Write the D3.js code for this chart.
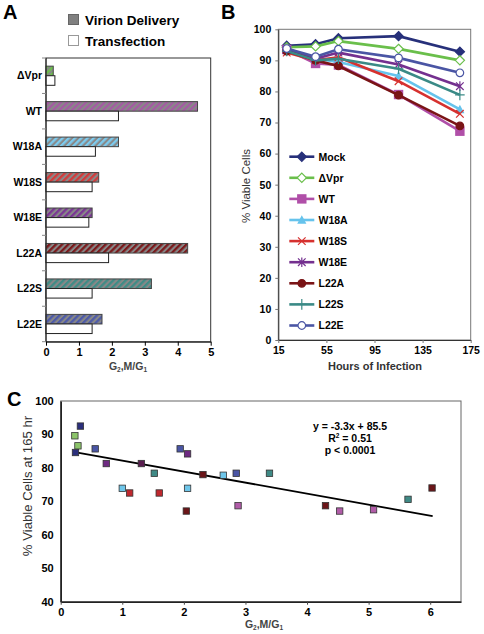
<!DOCTYPE html>
<html><head><meta charset="utf-8">
<script src="https://cdn.jsdelivr.net/npm/d3@7"></script>
<style>
body{margin:0;background:#fff}
svg{display:block}
text{font-family:"Liberation Sans",Arial,Helvetica,sans-serif}
</style>
</head><body>
<svg id="chart" width="484" height="634"></svg>
<script>
// ---------- Panel A data ----------
const mutants = ["ΔVpr","WT","W18A","W18S","W18E","L22A","L22S","L22E"];
const virionDelivery = [0.22,4.6,2.2,1.6,1.4,4.3,3.2,1.7];
const transfection = [0.27,2.2,1.5,1.4,1.3,1.9,1.4,1.4];
const mutantColors = ["#6cbf4c","#a45ba3","#7ccbee","#d33a3a","#7a3594","#7a1a1c","#3f8c86","#4d5aa8"];
const barTicks = [0,1,2,3,4,5];

// ---------- Panel B data ----------
const seriesNames = ["Mock","ΔVpr","WT","W18A","W18S","W18E","L22A","L22S","L22E"];
const seriesColors = ["#27307a","#6abf4b","#b04fa8","#66c3ec","#d6312f","#74308f","#7a1416","#3a8a86","#4a55a4"];
const seriesMarkers = ["diamond","diamondOpen","square","triangle","x","asterisk","circle","plus","circleOpen"];
const hours = [22,46,65,115,166];
const mockV  = [94.7,95.2,97.1,97.8,92.8];
const dVprV  = [94.2,94.5,96.2,93.7,90.0];
const wtV    = [93.5,89.0,88.5,79.0,67.2];
const w18aV  = [93.8,90.5,89.5,85.0,74.2];
const w18sV  = [92.5,90.0,91.0,83.3,72.8];
const w18eV  = [93.3,90.5,92.5,88.7,81.7];
const l22aV  = [93.0,90.0,88.2,78.8,68.9];
const l22sV  = [93.0,90.0,90.5,87.3,78.9];
const l22eV  = [93.8,91.2,93.6,90.8,86.0];
const seriesValues = [mockV,dVprV,wtV,w18aV,w18sV,w18eV,l22aV,l22sV,l22eV];
const hourTicks = [15,55,95,135,175];
const viableTicks = [0,10,20,30,40,50,60,70,80,90,100];

// ---------- Panel C data ----------
const scatterX = [0.23,0.28,0.24,0.32,0.56,0.74,1.31,1.52,1.94,2.06,2.31,2.64,2.85,1.00,1.12,1.60,2.06,2.04,2.88,3.39,4.30,4.53,5.08,5.64,6.03];
const scatterY = [89.6,86.6,84.6,92.5,85.7,81.3,81.3,78.4,85.7,84.2,78.0,77.8,78.4,73.9,72.5,72.5,73.9,67.1,68.7,78.4,68.7,67.1,67.5,70.6,74.0];
const scatterGroup = ["ΔVpr","ΔVpr","Mock","Mock","L22E","W18E","W18E2","L22S","L22E","W18E","L22A","W18A","L22E","W18A","W18S","W18S","W18A","L22A","WT","L22S","L22A","WT","WT","L22S","L22A"];
const scatterColorNames = ["Mock","ΔVpr","WT","W18A","W18S","W18E","W18E2","L22A","L22S","L22E"];
const scatterColors = ["#2b2f7c","#8cc46a","#b15ca8","#6ec6ea","#c0282e","#6e2a82","#5a1e50","#6b1518","#3f8a86","#4a55a4"];
const fitSlope = -3.3, fitIntercept = 85.5, fitRange = [0.25,6.04];
const fitLabels = ["y = -3.3x + 85.5","R² = 0.51","p < 0.0001"];
const gTicks = [0,1,2,3,4,5,6];
const viableTicksC = [40,50,60,70,80,90,100];

const svg = d3.select("#chart");
const defs = svg.append("defs");
const BOLD = "bold";
const fmtInt = d3.format("d");

function g2mg1(sel, x, y, anchor, size){
  const t = sel.append("text").attr("x",x).attr("y",y).attr("text-anchor",anchor)
    .attr("font-size",size).attr("font-weight","bold").attr("fill","#444");
  t.append("tspan").text("G");
  t.append("tspan").attr("font-size",size*0.62).attr("dy",2).text("2");
  t.append("tspan").attr("dy",-2).text(",M/G");
  t.append("tspan").attr("font-size",size*0.62).attr("dy",2).text("1");
}

// ================= Panel A =================
{
  const x = d3.scaleLinear().domain([0,5]).range([46,210.7]);
  const y = d3.scaleBand().domain(mutants).range([58,341.7]).paddingInner(0.46).paddingOuter(0.23);
  const g = svg.append("g");

  svg.append("text").attr("x",3).attr("y",19).attr("font-size",20).attr("font-weight",BOLD).text("A");

  // legend
  g.append("rect").attr("x",68.5).attr("y",14.5).attr("width",10).attr("height",10).attr("fill","#808080").attr("stroke","#666");
  g.append("text").attr("x",85).attr("y",24.5).attr("font-size",13.5).attr("font-weight",BOLD).text("Virion Delivery");
  g.append("rect").attr("x",68.5).attr("y",35.5).attr("width",10).attr("height",10).attr("fill","#fff").attr("stroke","#999");
  g.append("text").attr("x",85).attr("y",45.5).attr("font-size",13.5).attr("font-weight",BOLD).text("Transfection");

  // patterns
  mutants.forEach((m,i)=>{
    const p = defs.append("pattern").attr("id","hatch"+i).attr("patternUnits","userSpaceOnUse")
      .attr("width",4.4).attr("height",4.4).attr("patternTransform","rotate(45)");
    p.append("rect").attr("width",4.4).attr("height",4.4).attr("fill","#888");
    p.append("rect").attr("width",2.3).attr("height",4.4).attr("fill",mutantColors[i]);
  });

  // frame
  g.append("rect").attr("x",x(0)).attr("y",58).attr("width",x(5)-x(0)).attr("height",341.7-58)
    .attr("fill","none").attr("stroke","#333").attr("stroke-width",1);

  const bw = y.bandwidth()/2;
  g.selectAll(".vb").data(mutants).join("rect")
    .attr("x",x(0)).attr("y",d=>y(d)).attr("height",bw)
    .attr("width",(d,i)=>x(virionDelivery[i])-x(0))
    .attr("fill",(d,i)=>`url(#hatch${i})`).attr("stroke","#444").attr("stroke-width",1);
  g.selectAll(".tb").data(mutants).join("rect")
    .attr("x",x(0)).attr("y",d=>y(d)+bw).attr("height",bw)
    .attr("width",(d,i)=>x(transfection[i])-x(0))
    .attr("fill","#fff").attr("stroke","#222").attr("stroke-width",1);

  // y axis with ticks between categories
  g.append("line").attr("x1",x(0)).attr("x2",x(0)).attr("y1",58).attr("y2",341.7).attr("stroke","#222");
  const step = y.step();
  d3.range(mutants.length+1).forEach(k=>{
    const yy = 58 + step*k;
    g.append("line").attr("x1",x(0)-4).attr("x2",x(0)).attr("y1",yy).attr("y2",yy).attr("stroke","#888");
  });
  g.selectAll(".yl").data(mutants).join("text")
    .attr("x",42).attr("y",d=>y(d)+y.bandwidth()/2+3.7).attr("text-anchor","end")
    .attr("font-size",10.5).attr("font-weight",BOLD).text(d=>d);

  // x axis
  const xa = g.append("g").attr("transform","translate(0,341.7)")
    .call(d3.axisBottom(x).tickValues(barTicks).tickFormat(fmtInt).tickSize(4).tickSizeOuter(0).tickPadding(3));
  xa.select(".domain").attr("stroke","#222");
  xa.selectAll("text").attr("font-size",11).attr("font-weight",BOLD).attr("fill","#000")
    .attr("font-family","Liberation Sans, Arial, sans-serif");
  g2mg1(g,128,370,"middle",10.5);
}

// ================= Panel B =================
{
  const x = d3.scaleLinear().domain([15,175]).range([278.3,470.7]);
  const y = d3.scaleLinear().domain([0,100]).range([340,29.3]);
  const g = svg.append("g");
  svg.append("text").attr("x",221).attr("y",19).attr("font-size",20).attr("font-weight",BOLD).text("B");

  g.append("rect").attr("x",x(15)).attr("y",y(100)).attr("width",x(175)-x(15)).attr("height",y(0)-y(100))
    .attr("fill","none").attr("stroke","#777").attr("stroke-width",1);

  const ya = g.append("g").attr("transform",`translate(${x(15)},0)`)
    .call(d3.axisLeft(y).tickValues(viableTicks).tickFormat(fmtInt).tickSize(3).tickSizeOuter(0).tickPadding(4));
  ya.select(".domain").attr("stroke","#333");
  ya.selectAll(".tick line").attr("stroke","#777");
  ya.selectAll("text").attr("font-size",10.5).attr("font-weight",BOLD).attr("fill","#000")
    .attr("font-family","Liberation Sans, Arial, sans-serif");
  const xa = g.append("g").attr("transform",`translate(0,${y(0)})`)
    .call(d3.axisBottom(x).tickValues(hourTicks).tickFormat(fmtInt).tickSize(3).tickSizeOuter(0).tickPadding(4));
  xa.select(".domain").attr("stroke","#333");
  xa.selectAll(".tick line").attr("stroke","#777");
  xa.selectAll("text").attr("font-size",10.5).attr("font-weight",BOLD).attr("fill","#000")
    .attr("font-family","Liberation Sans, Arial, sans-serif");

  g.append("text").attr("x",375).attr("y",370).attr("text-anchor","middle").attr("font-size",11)
    .attr("font-weight",BOLD).attr("fill","#333").text("Hours of Infection");
  g.append("text").attr("transform","translate(250,186) rotate(-90)").attr("text-anchor","middle")
    .attr("font-size",11.5).attr("fill","#333").text("% Viable Cells");

  function marker(sel, type, color){
    const s = 3.8;
    if(type==="diamond"||type==="diamondOpen"){
      sel.append("path").attr("d",`M0,${-s-0.8}L${s+0.8},0L0,${s+0.8}L${-s-0.8},0Z`)
        .attr("fill",type==="diamond"?color:"#fff").attr("stroke",color).attr("stroke-width",1.2);
    } else if(type==="square"){
      sel.append("rect").attr("x",-4.7).attr("y",-4.7).attr("width",9.4).attr("height",9.4).attr("fill",color);
    } else if(type==="triangle"){
      sel.append("path").attr("d",`M0,${-s-1}L${s+0.8},${s}L${-s-0.8},${s}Z`).attr("fill",color);
    } else if(type==="circle"||type==="circleOpen"){
      sel.append("circle").attr("r",s).attr("fill",type==="circle"?color:"#fff").attr("stroke",color).attr("stroke-width",1.2);
    } else if(type==="x"){
      sel.append("path").attr("d",`M${-s},${-s}L${s},${s}M${-s},${s}L${s},${-s}`).attr("stroke",color).attr("stroke-width",1.2).attr("fill","none");
    } else if(type==="asterisk"){
      sel.append("path").attr("d",`M${-s},${-s}L${s},${s}M${-s},${s}L${s},${-s}M0,${-s-1}L0,${s+1}`).attr("stroke",color).attr("stroke-width",1.2).attr("fill","none");
    } else if(type==="plus"){
      sel.append("path").attr("d",`M0,${-s-1.5}L0,${s+1.5}M${-s-1},0L${s+1},0`).attr("stroke",color).attr("stroke-width",1.2).attr("fill","none");
    }
  }

  const line = d3.line().x((d,i)=>x(hours[i])).y(d=>y(d));
  seriesNames.forEach((name,si)=>{
    const col = seriesColors[si];
    g.append("path").datum(seriesValues[si]).attr("d",line).attr("fill","none")
      .attr("stroke",col).attr("stroke-width",2.6).attr("stroke-linejoin","round");
    seriesValues[si].forEach((v,i)=>{
      marker(g.append("g").attr("transform",`translate(${x(hours[i])},${y(v)})`), seriesMarkers[si], col);
    });
    // legend
    const ly = 156.7 + si*21.1;
    g.append("line").attr("x1",289.3).attr("x2",314.3).attr("y1",ly).attr("y2",ly).attr("stroke",col).attr("stroke-width",2.6);
    marker(g.append("g").attr("transform",`translate(301.8,${ly})`), seriesMarkers[si], col);
    g.append("text").attr("x",318.5).attr("y",ly+3.8).attr("font-size",10.5).attr("font-weight",BOLD).text(name);
  });
}

// ================= Panel C =================
{
  const x = d3.scaleLinear().domain([0,6.5]).range([60.7,461]);
  const y = d3.scaleLinear().domain([40,100]).range([601.7,401]);
  const color = d3.scaleOrdinal().domain(scatterColorNames).range(scatterColors);
  const g = svg.append("g");
  svg.append("text").attr("x",7).attr("y",406).attr("font-size",20).attr("font-weight",BOLD).text("C");

  g.append("rect").attr("x",x(0)).attr("y",y(100)).attr("width",x(6.5)-x(0)).attr("height",y(40)-y(100))
    .attr("fill","none").attr("stroke","#666").attr("stroke-width",1);

  const ya = g.append("g").attr("transform",`translate(${x(0)},0)`)
    .call(d3.axisLeft(y).tickValues(viableTicksC).tickFormat(fmtInt).tickSize(0).tickPadding(7));
  ya.select(".domain").attr("stroke","#222").attr("stroke-width",1.6);
  ya.selectAll("text").attr("font-size",11).attr("font-weight",BOLD).attr("fill","#000")
    .attr("font-family","Liberation Sans, Arial, sans-serif");
  const xa = g.append("g").attr("transform",`translate(0,${y(40)})`)
    .call(d3.axisBottom(x).tickValues(gTicks).tickFormat(fmtInt).tickSize(3).tickSizeOuter(0).tickPadding(4));
  xa.select(".domain").attr("stroke","#222").attr("stroke-width",1.6);
  xa.selectAll(".tick line").attr("stroke","#444");
  xa.selectAll("text").attr("font-size",11).attr("font-weight",BOLD).attr("fill","#000")
    .attr("font-family","Liberation Sans, Arial, sans-serif");

  g2mg1(g,264,628,"middle",10.5);
  g.append("text").attr("transform","translate(32,486) rotate(-90)").attr("text-anchor","middle")
    .attr("font-size",13.2).attr("fill","#333").text("% Viable Cells at 165 hr");

  // regression line
  g.append("line").attr("x1",x(fitRange[0])).attr("y1",y(fitSlope*fitRange[0]+fitIntercept))
    .attr("x2",x(fitRange[1])).attr("y2",y(fitSlope*fitRange[1]+fitIntercept))
    .attr("stroke","#000").attr("stroke-width",1.8);

  g.selectAll(".pt").data(scatterX).join("rect")
    .attr("x",d=>x(d)-3.2).attr("y",(d,i)=>y(scatterY[i])-3.2).attr("width",6.4).attr("height",6.4)
    .attr("fill",(d,i)=>color(scatterGroup[i])).attr("stroke","#333").attr("stroke-width",0.8);

  // annotation
  const ann = g.append("text").attr("text-anchor","middle").attr("font-size",10.5).attr("font-weight",BOLD);
  ann.append("tspan").attr("x",350).attr("y",430).text(fitLabels[0]);
  const r2 = ann.append("tspan").attr("x",350).attr("y",442);
  r2.append("tspan").text("R");
  r2.append("tspan").attr("font-size",6.5).attr("dy",-4).text("2");
  r2.append("tspan").attr("dy",4).text(" = 0.51");
  ann.append("tspan").attr("x",350).attr("y",453.5).text(fitLabels[2]);
}
</script>
</body></html>
